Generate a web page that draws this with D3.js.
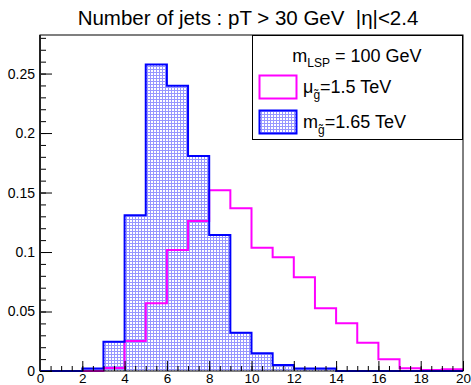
<!DOCTYPE html>
<html>
<head>
<meta charset="utf-8">
<script src="https://cdn.jsdelivr.net/npm/d3@7"></script>
<style>
  body { margin: 0; background: #fff; }
  text { font-family: "Liberation Sans", Arial, sans-serif; fill: #000; white-space: pre; }
</style>
</head>
<body>
<div id="chart"></div>
<script>
// bin edges 0..20, width 1
const binLow = d3.range(0, 20)
const glBlue = [0, 0, 0.002, 0.0246, 0.131, 0.2577, 0.2397, 0.1807, 0.1143, 0.0322,
  0.0149, 0.005, 0.0022, 0.0022, 0, 0, 0, 0, 0, 0]
const glMagenta = [0, 0, 0, 0.0025, 0.0252, 0.0569, 0.1017, 0.126, 0.152, 0.1367,
  0.1035, 0.0955, 0.0787, 0.0527, 0.0401, 0.0238, 0.0098, 0.0023, 0.0008, 0.0015]
const xTickLabels = d3.range(0, 21, 2)
const yTickLabels = [0, 0.05, 0.1, 0.15, 0.2, 0.25]

const width = 471
const height = 385
const frame = { left: 40, right: 463, top: 35, bottom: 371 }

const svg = d3.select('#chart').append('svg')
  .attr('width', width).attr('height', height)

const x = d3.scaleLinear().domain([0, 20]).range([frame.left, frame.right])
const y = d3.scaleLinear().domain([0, 0.2824]).range([frame.bottom, frame.top])

// mesh-like fill pattern
const defs = svg.append('defs')
const pat = defs.append('pattern')
  .attr('id', 'dots')
  .attr('patternUnits', 'userSpaceOnUse')
  .attr('width', 3).attr('height', 3)
pat.append('rect').attr('width', 3).attr('height', 3).attr('fill', '#ffffff')
pat.append('rect').attr('width', 3).attr('height', 1).attr('fill', '#9696ff')
pat.append('rect').attr('width', 1).attr('height', 3).attr('fill', '#9696ff')

// step path through all bins, starting and ending on the axis
function stepPath (vals) {
  const pts = [[x(0), y(0)]]
  vals.forEach((v, i) => {
    pts.push([x(binLow[i]), y(v)])
    pts.push([x(binLow[i] + 1), y(v)])
  })
  pts.push([x(20), y(0)])
  return d3.line()(pts)
}

svg.append('path')
  .attr('d', stepPath(glBlue) + 'Z')
  .attr('fill', 'url(#dots)')

svg.append('path')
  .attr('d', stepPath(glMagenta))
  .attr('fill', 'none')
  .attr('stroke', '#ff00ff')
  .attr('stroke-width', 2)

svg.append('path')
  .attr('d', stepPath(glBlue))
  .attr('fill', 'none')
  .attr('stroke', '#0000ff')
  .attr('stroke-width', 2)

// axes
const xAxis = svg.append('g').attr('transform', `translate(0,${frame.bottom})`)
xAxis.call(d3.axisBottom(x).tickValues(d3.range(0, 20.01, 0.5)).tickSize(-5).tickFormat(''))
xAxis.append('g').call(d3.axisBottom(x).tickValues(xTickLabels).tickSize(-10).tickPadding(2)
  .tickFormat(d3.format('d')))
xAxis.selectAll('.domain').remove()
xAxis.selectAll('text').style('font-size', '13.5px').attr('fill', '#000').attr('dy', '0.72em')

const yAxis = svg.append('g').attr('transform', `translate(${frame.left},0)`)
yAxis.call(d3.axisLeft(y).tickValues(d3.range(0, 0.281, 0.01)).tickSize(-6).tickFormat(''))
yAxis.append('g').call(d3.axisLeft(y).tickValues(yTickLabels).tickSize(-12).tickPadding(5)
  .tickFormat(d => d === 0 ? '0' : d3.format('')(+d.toFixed(2))))
yAxis.selectAll('.domain').remove()
yAxis.selectAll('text').style('font-size', '14px').attr('fill', '#000')
svg.selectAll('.tick line').attr('stroke', '#000')

// frame
svg.append('rect')
  .attr('x', frame.left).attr('y', frame.top)
  .attr('width', frame.right - frame.left).attr('height', frame.bottom - frame.top)
  .attr('fill', 'none').attr('stroke', '#000').attr('stroke-width', 1)
svg.append('line')
  .attr('x1', frame.left).attr('x2', frame.left)
  .attr('y1', frame.top).attr('y2', frame.bottom)
  .attr('stroke', '#222').attr('stroke-width', 2)

// title
svg.append('text')
  .attr('x', 248).attr('y', 25)
  .attr('text-anchor', 'middle')
  .style('font-size', '20.5px')
  .text('Number of jets : pT > 30 GeV  |η|<2.4')

// legend
const leg = svg.append('g')
leg.append('rect')
  .attr('x', 252.5).attr('y', 35.5).attr('width', 210).attr('height', 104)
  .attr('fill', '#fff').attr('stroke', '#000')

const t0 = leg.append('text').attr('x', 357).attr('y', 62)
  .attr('text-anchor', 'middle').style('font-size', '18px')
t0.append('tspan').text('m')
t0.append('tspan').attr('dy', 5).style('font-size', '12px').text('LSP')
t0.append('tspan').attr('dy', -5).text(' = 100 GeV')

leg.append('rect').attr('x', 259.5).attr('y', 75.5).attr('width', 37).attr('height', 23)
  .attr('fill', '#fff').attr('stroke', '#ff00ff').attr('stroke-width', 2)
leg.append('rect').attr('x', 259.5).attr('y', 110.5).attr('width', 37).attr('height', 23)
  .attr('fill', 'url(#dots)').attr('stroke', '#0000ff').attr('stroke-width', 2)

const entries = [
  { sym: 'μ', rest: '=1.5 TeV', y: 93 },
  { sym: 'm', rest: '=1.65 TeV', y: 128 }
]
entries.forEach(e => {
  const t = leg.append('text').attr('x', 303).attr('y', e.y).style('font-size', '18px')
  t.append('tspan').text(e.sym)
  t.append('tspan').attr('dy', 6).style('font-size', '12px').text('g̃')
  t.append('tspan').attr('dy', -6).text(e.rest)
})
</script>
</body>
</html>
